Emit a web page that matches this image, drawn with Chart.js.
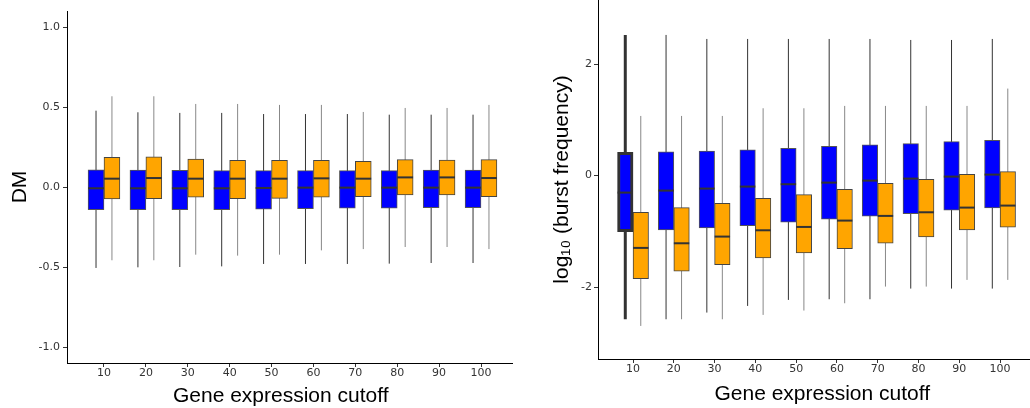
<!DOCTYPE html>
<html>
<head>
<meta charset="utf-8">
<script src="https://cdn.jsdelivr.net/npm/chart.js@4"></script>
<style>
  html, body { margin: 0; padding: 0; background: #fff; }
  #wrap { position: relative; width: 1030px; height: 408px; }
  .panel { position: absolute; top: 0; height: 408px; }
</style>
</head>
<body>
<div id="wrap">
  <div class="panel" style="left:0;width:520px"><canvas id="dm" width="520" height="408"></canvas></div>
  <div class="panel" style="left:520px;width:510px"><canvas id="bf" width="510" height="408"></canvas></div>
</div>
<script>
const cutoffs = [10, 20, 30, 40, 50, 60, 70, 80, 90, 100];

// each row: [lower whisker, Q1, median, Q3, upper whisker]
const dmBlue = [
  [-0.506, -0.142, -0.008, 0.108, 0.477],
  [-0.502, -0.142, -0.008, 0.106, 0.467],
  [-0.500, -0.142, -0.008, 0.104, 0.463],
  [-0.496, -0.142, -0.008, 0.102, 0.463],
  [-0.481, -0.138, -0.006, 0.102, 0.456],
  [-0.481, -0.135, -0.004, 0.102, 0.456],
  [-0.481, -0.133, -0.004, 0.102, 0.456],
  [-0.479, -0.133, -0.004, 0.102, 0.452],
  [-0.475, -0.129, -0.004, 0.106, 0.452],
  [-0.475, -0.129, -0.004, 0.106, 0.452]
];
const dmOrange = [
  [-0.458, -0.075, 0.052, 0.185, 0.567],
  [-0.458, -0.073, 0.056, 0.188, 0.567],
  [-0.423, -0.063, 0.052, 0.175, 0.519],
  [-0.429, -0.073, 0.052, 0.167, 0.519],
  [-0.423, -0.071, 0.052, 0.167, 0.513],
  [-0.396, -0.063, 0.054, 0.167, 0.513],
  [-0.388, -0.060, 0.052, 0.160, 0.469],
  [-0.375, -0.050, 0.060, 0.171, 0.494],
  [-0.375, -0.050, 0.060, 0.169, 0.494],
  [-0.388, -0.060, 0.056, 0.171, 0.513]
];
const bfBlue = [
  [-2.577, -1.004, -0.305, 0.419, 2.523],
  [-2.577, -0.975, -0.269, 0.425, 2.523],
  [-2.457, -0.939, -0.233, 0.442, 2.451],
  [-2.338, -0.897, -0.197, 0.460, 2.451],
  [-2.230, -0.837, -0.155, 0.490, 2.451],
  [-2.218, -0.783, -0.126, 0.526, 2.451],
  [-2.218, -0.729, -0.090, 0.550, 2.451],
  [-2.027, -0.682, -0.054, 0.574, 2.433],
  [-2.027, -0.622, -0.018, 0.610, 2.433],
  [-2.027, -0.580, 0.018, 0.634, 2.451]
];
const bfOrange = [
  [-2.697, -1.848, -1.297, -0.658, 1.070],
  [-2.577, -1.716, -1.214, -0.574, 1.070],
  [-2.577, -1.596, -1.094, -0.496, 1.070],
  [-2.499, -1.477, -0.981, -0.407, 1.208],
  [-2.421, -1.387, -0.921, -0.341, 1.208],
  [-2.290, -1.309, -0.807, -0.245, 1.250],
  [-1.991, -1.214, -0.723, -0.138, 1.250],
  [-1.991, -1.100, -0.658, -0.066, 1.250],
  [-1.871, -0.975, -0.574, 0.024, 1.250],
  [-1.871, -0.927, -0.538, 0.072, 1.561]
];
const dmTicks = [-1, -0.5, 0, 0.5, 1];
const bfTicks = [-2, 0, 2];

const FONT = '"Liberation Sans", Arial, Helvetica, sans-serif';
const TICKFONT = '"DejaVu Sans", sans-serif';
const DODGE = 1.9; // half of a box width, in x units
const NB = '\u00a0\u00a0\u00a0'; // nudges the x title off-centre like the original

function boxSets(series, fill, edge, whisker, shift, medRadius, emphFirst) {
  const xs = cutoffs.map(c => c + shift);
  const whiskerPts = [];
  series.forEach((s, i) => {
    whiskerPts.push({x: xs[i], y: s[0]}, {x: xs[i], y: s[4]}, {x: xs[i], y: null});
  });
  return [
    {
      type: 'line', data: whiskerPts, borderColor: whisker, borderWidth: 1,
      pointRadius: 0, order: 3,
      segment: {
        borderWidth: ctx => (emphFirst && ctx.p0DataIndex === 0 ? 3 : undefined),
        borderColor: ctx => (emphFirst && ctx.p0DataIndex === 0 ? '#333' : undefined)
      }
    },
    {
      type: 'bar', data: series.map((s, i) => ({x: xs[i], y: [s[1], s[3]]})),
      backgroundColor: fill, borderColor: ctx => (emphFirst && ctx.dataIndex === 0 ? '#333' : edge),
      borderWidth: ctx => (emphFirst && ctx.dataIndex === 0 ? 3 : 1),
      borderSkipped: false, grouped: false, barPercentage: 1, categoryPercentage: 1, order: 2
    },
    {
      type: 'scatter', data: series.map((s, i) => ({x: xs[i], y: s[2]})),
      pointStyle: 'line', pointRadius: medRadius, borderWidth: 2, borderColor: '#333', order: 1
    }
  ];
}

function makeChart(id, blue, orange, o) {
  new Chart(document.getElementById(id), {
    type: 'bar',
    data: {
      datasets: [
        ...boxSets(blue, '#0000ff', '#555', '#333', -DODGE, o.medR, o.emph),
        ...boxSets(orange, '#ffa500', '#444', '#888', DODGE, o.medR, false)
      ]
    },
    options: {
      responsive: false,
      animation: false,
      events: [],
      layout: {padding: o.pad, autoPadding: false},
      plugins: {legend: {display: false}, tooltip: {enabled: false}},
      scales: {
        x: {
          type: 'linear', min: o.xmin, max: o.xmax, offset: false,
          afterBuildTicks: s => { s.ticks = cutoffs.map(v => ({value: v})); },
          afterFit: s => { s.height = o.xh; s.paddingLeft = 0; s.paddingRight = 0; },
          grid: {display: true, drawOnChartArea: false, offset: false, tickLength: 4, tickColor: '#333'},
          border: {display: true, color: '#000', width: 1},
          ticks: {font: {family: TICKFONT, size: 11}, color: '#333', padding: 0, maxRotation: 0, autoSkip: false},
          title: {display: true, text: o.xtitle, color: '#000',
                  font: {family: FONT, size: 21, lineHeight: 1}, padding: {top: 0, bottom: o.xtp}}
        },
        y: {
          min: o.ymin, max: o.ymax,
          afterBuildTicks: s => { s.ticks = o.yticks.map(v => ({value: v})); },
          afterFit: s => { s.width = o.yw; s.paddingTop = 0; s.paddingBottom = 0; },
          grid: {display: true, drawOnChartArea: false, tickLength: 4, tickColor: '#333'},
          border: {display: true, color: '#000', width: 1},
          ticks: {font: {family: TICKFONT, size: 11}, color: '#333', padding: o.ytpad,
                  callback: v => v.toFixed(o.dec)},
          title: {display: true, text: o.ytitle, color: '#000',
                  font: {family: FONT, size: 21, lineHeight: 1}, padding: {top: o.ytp, bottom: 0}}
        }
      }
    }
  });
}

makeChart('dm', dmBlue, dmOrange, {
  pad: {left: 0, right: 8, top: 11, bottom: 0},
  xmin: 1.17, xmax: 107.4, xh: 45, xtp: 1, xtitle: 'Gene expression cutoff' + NB,
  ymin: -1.1, ymax: 1.1, yticks: dmTicks, yw: 67, ytpad: 3, dec: 1,
  ytitle: 'DM', ytp: 10, medR: 7.9, emph: false
});

makeChart('bf', bfBlue, bfOrange, {
  pad: {left: 0, right: 1, top: 0, bottom: 0},
  xmin: 1.41, xmax: 107.1, xh: 49, xtp: 3, xtitle: NB + 'Gene expression cutoff',
  ymin: -3.29, ymax: 3.15, yticks: bfTicks, yw: 78, ytpad: 2, dec: 0,
  ytitle: 'log\u2081\u2080 (burst frequency)', ytp: 32, medR: 7.7, emph: true
});
</script>
</body>
</html>
